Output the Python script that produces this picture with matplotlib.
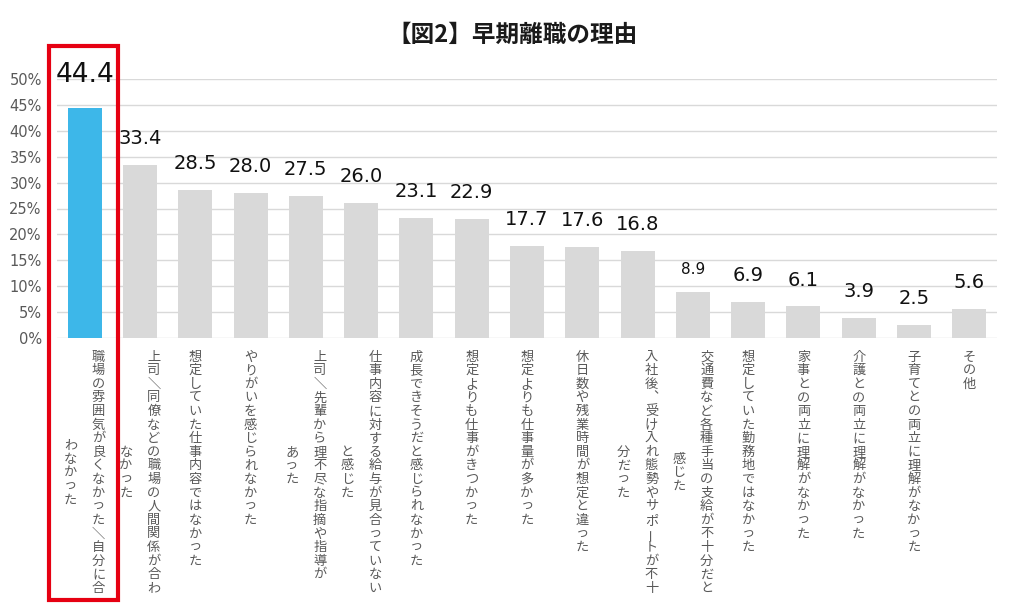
import matplotlib
matplotlib.use("Agg")
import matplotlib.pyplot as plt
from matplotlib.patches import Rectangle

plt.rcParams['font.family'] = ['Noto Sans CJK JP', 'DejaVu Sans']

# データ
labels = [
    ["職場の雰囲気が良くなかった/自分に合", "わなかった"],
    ["上司/同僚などの職場の人間関係が合わ", "なかった"],
    ["想定していた仕事内容ではなかった"],
    ["やりがいを感じられなかった"],
    ["上司/先輩から理不尽な指摘や指導が", "あった"],
    ["仕事内容に対する給与が見合っていない", "と感じた"],
    ["成長できそうだと感じられなかった"],
    ["想定よりも仕事がきつかった"],
    ["想定よりも仕事量が多かった"],
    ["休日数や残業時間が想定と違った"],
    ["入社後、受け入れ態勢やサポートが不十", "分だった"],
    ["交通費など各種手当の支給が不十分だと", "感じた"],
    ["想定していた勤務地ではなかった"],
    ["家事との両立に理解がなかった"],
    ["介護との両立に理解がなかった"],
    ["子育てとの両立に理解がなかった"],
    ["その他"],
]
values = [44.4, 33.4, 28.5, 28.0, 27.5, 26.0, 23.1, 22.9, 17.7, 17.6, 16.8,
          8.9, 6.9, 6.1, 3.9, 2.5, 5.6]
yticks = [0, 5, 10, 15, 20, 25, 30, 35, 40, 45, 50]

blue = '#3DB7E9'
gray = '#D9D9D9'
txt = '#595959'

fig = plt.figure(figsize=(10.24, 6.09), dpi=100)
ax = fig.add_axes([57/1024, 1-338/609, 940/1024, (338-79)/609])

x = list(range(len(values)))
colors = [blue] + [gray]*(len(values)-1)
ax.bar(x, values, width=0.615, color=colors, zorder=2)
ax.set_xlim(-0.5, len(values)-0.5)
ax.set_ylim(0, 50)
ax.set_yticks(yticks)
ax.set_yticklabels([f"{t}%" for t in yticks], fontsize=10.5, color=txt,
                   family='DejaVu Sans')
ax.tick_params(axis='y', length=0, pad=11)
ax.set_xticks([])
ax.grid(axis='y', color='#D9D9D9', lw=1, zorder=0)
for s in ax.spines.values():
    s.set_visible(False)

# 値ラベル
for i, v in enumerate(values):
    if i == 0:
        fs, off = 19, 24
    elif v == 8.9:
        fs, off = 11, 16
    else:
        fs, off = 14, 19
    ax.annotate(f"{v:.1f}", xy=(i, v), xytext=(0, off), textcoords='offset points',
                ha='center', va='center', fontsize=fs, color='#111111',
                family='DejaVu Sans')

# 縦書きラベル
vert = {"/": "＼", "、": "︑"}
pitch = 9.8   # pt
top = 13.7
for i, cols in enumerate(labels):
    n1 = len(cols[0])
    mid = top + (n1 - 1) / 2 * pitch
    ncol = len(cols)
    for c, line in enumerate(cols):
        dx = 0 if ncol == 1 else (10 if c == 0 else -10)
        n = len(line)
        start = top if c == 0 else mid - (n - 1) / 2 * pitch
        for k, ch in enumerate(line):
            rot = 90 if ch == "ー" else 0
            ch = vert.get(ch, ch)
            ax.annotate(ch, xy=(i, 0), xycoords=('data', 'axes fraction'),
                        xytext=(dx, -(start + k * pitch)),
                        textcoords='offset points', ha='center', va='center',
                        fontsize=9.5, color=txt, rotation=rot, annotation_clip=False)

# タイトル
fig.text(513/1024, 1-35/609, "【図2】早期離職の理由", ha='center', va='center',
         fontsize=17, fontweight='bold', color='#1a1a1a')

# 赤枠
fig.add_artist(Rectangle((49/1024, 1-600/609), 69/1024, 554/609,
                         transform=fig.transFigure, fill=False,
                         edgecolor='#E60012', lw=3, zorder=10))

fig.savefig("out.png", dpi=100, facecolor='white')
